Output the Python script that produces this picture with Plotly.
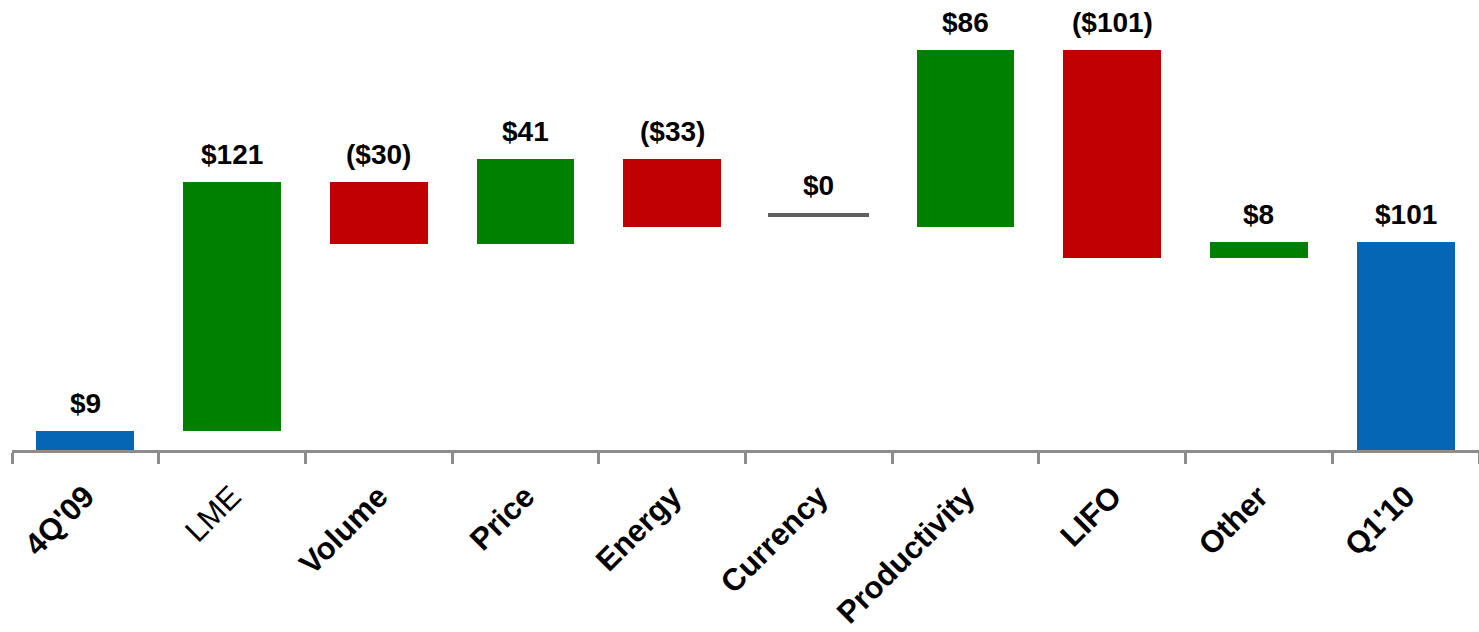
import plotly.graph_objects as go
import numpy as np

categories = ["4Q'09", "LME", "Volume", "Price", "Energy", "Currency",
              "Productivity", "LIFO", "Other", "Q1'10"]
tick_labels = ["<b>4Q'09</b>", "LME", "<b>Volume</b>", "<b>Price</b>", "<b>Energy</b>",
               "<b>Currency</b>", "<b>Productivity</b>", "<b>LIFO</b>", "<b>Other</b>", "<b>Q1'10</b>"]
values = [9, 121, -30, 41, -33, 0, 86, -101, 8, 101]
measures = ["absolute", "relative", "relative", "relative", "relative", "relative",
            "relative", "relative", "relative", "total"]
value_labels = ["$9", "$121", "($30)", "$41", "($33)", "$0", "$86", "($101)", "$8", "$101"]

BLUE = "#0566B5"
GREEN = "#008000"
RED = "#C00000"
GREY = "#606060"
AXIS_GREY = "#8C8C8C"

# compute bases/heights
bases, heights, colors, tops = [], [], [], []
running = 0
for v, m in zip(values, measures):
    if m == "absolute":
        base, h = 0, v
        running = v
        col = BLUE
    elif m == "total":
        base, h = 0, running
        col = BLUE
    else:
        if v >= 0:
            base, h = running, v
            col = GREEN
        else:
            base, h = running + v, -v
            col = RED
        running += v
    bases.append(base)
    heights.append(h)
    colors.append(col)
    tops.append(base + h)

fig = go.Figure()
bar_idx = [i for i, v in enumerate(values) if not (measures[i] == "relative" and v == 0)]
fig.add_trace(go.Bar(
    x=[categories[i] for i in bar_idx],
    y=[heights[i] for i in bar_idx],
    base=[bases[i] for i in bar_idx],
    marker=dict(color=[colors[i] for i in bar_idx], line=dict(width=0)),
    width=0.667,
    hoverinfo="skip",
    showlegend=False,
))

# zero-change marker line
ZERO_THICK = 2.0
ZERO_LIFT = 5.0
zero_idx = [i for i, v in enumerate(values) if measures[i] == "relative" and v == 0]
fig.add_trace(go.Bar(
    x=[categories[i] for i in zero_idx],
    y=[ZERO_THICK for _ in zero_idx],
    base=[bases[i] + ZERO_LIFT for i in zero_idx],
    marker=dict(color=GREY, line=dict(width=0)),
    width=0.69,
    hoverinfo="skip",
    showlegend=False,
))

annotations = []
for i, cat in enumerate(categories):
    top = tops[i]
    if measures[i] == "relative" and values[i] == 0:
        top = bases[i] + ZERO_LIFT + ZERO_THICK
    annotations.append(dict(
        x=cat, y=top, xref="x", yref="y", text="<b>%s</b>" % value_labels[i],
        showarrow=False, yanchor="bottom", yshift=10,
        font=dict(family="Liberation Sans, Arial, sans-serif", size=28, color="black"),
    ))

fig.update_layout(
    width=1479, height=632,
    margin=dict(l=12, r=0, t=0, b=182, autoexpand=False),
    paper_bgcolor="white", plot_bgcolor="white",
    barmode="overlay",
    bargap=0,
    annotations=annotations,
    xaxis=dict(
        type="category",
        categoryorder="array", categoryarray=categories,
        tickvals=categories, ticktext=tick_labels,
        range=[-0.5, 9.5],
        automargin=False,
        showline=True, linecolor=AXIS_GREY, linewidth=3,
        ticks="outside", tickson="boundaries", ticklen=11, tickwidth=3, tickcolor=AXIS_GREY,
        tickangle=-45,
        tickfont=dict(family="Liberation Sans, Arial, sans-serif", size=31, color="black"),
        ticklabelstandoff=13,
        showgrid=False, zeroline=False,
    ),
    yaxis=dict(
        range=[0, 218.2], visible=False, showgrid=False, zeroline=False,
        automargin=False,
    ),
)

fig.write_html("out.html")
